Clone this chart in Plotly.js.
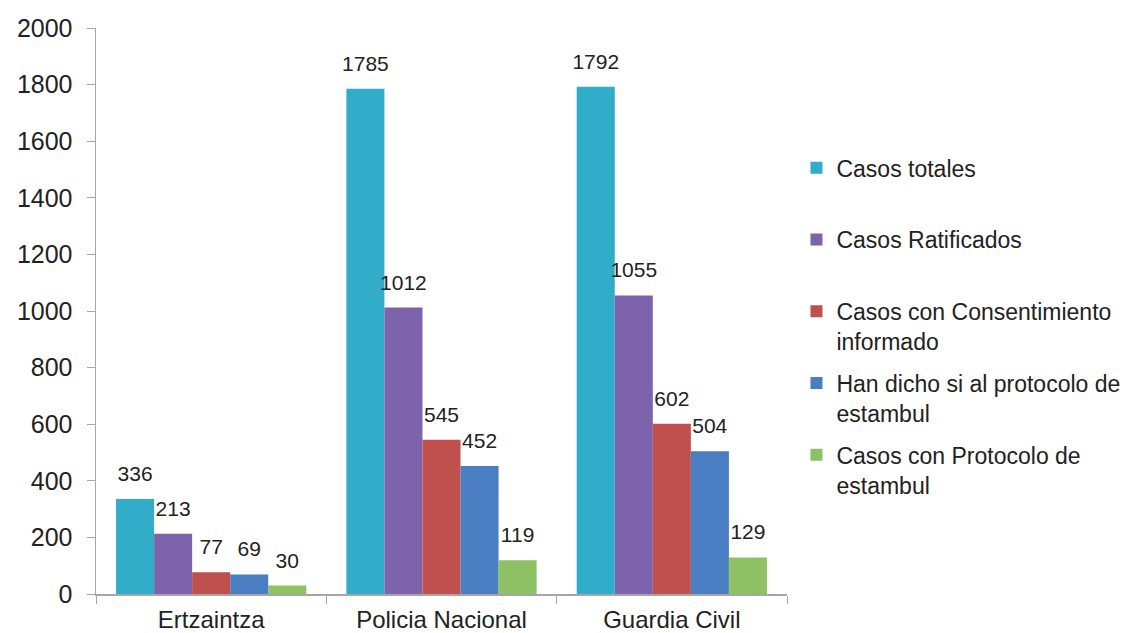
<!DOCTYPE html>
<html>
<head>
<meta charset="utf-8">
<script src="https://cdn.plot.ly/plotly-3.0.1.min.js"></script>
<style>html,body{margin:0;padding:0;background:#fff;}#chart{width:1146px;height:633px;}</style>
</head>
<body>
<div id="chart"></div>
<script>
var categories = ["Ertzaintza", "Policia Nacional", "Guardia Civil"];
var seriesNames = [
  "Casos totales",
  "Casos Ratificados",
  "Casos con Consentimiento<br>informado",
  "Han dicho si al protocolo de<br>estambul",
  "Casos con Protocolo de<br>estambul"
];
var casosTotales = [336, 1785, 1792];
var casosRatificados = [213, 1012, 1055];
var casosConsentimiento = [77, 545, 602];
var hanDichoSi = [69, 452, 504];
var casosProtocolo = [30, 119, 129];
var seriesValues = [casosTotales, casosRatificados, casosConsentimiento, hanDichoSi, casosProtocolo];
var colors = ["#31ADC9", "#7D62AC", "#C0504D", "#4A7EC2", "#8EC164"];
var yTicks = [0, 200, 400, 600, 800, 1000, 1200, 1400, 1600, 1800, 2000];

var font = "Liberation Sans, Arial, sans-serif";
var traces = seriesNames.map(function (name, i) {
  var legendName = name.indexOf("<br>") === -1 ? name + "<br>&nbsp;" : name;
  return {
    type: "bar",
    name: legendName,
    x: categories,
    y: seriesValues[i],
    marker: { color: colors[i] },
    text: seriesValues[i].map(String),
    texttemplate: "<span style='font-size:21px'>%{text}</span><br>&nbsp;",
    textposition: "outside",
    constraintext: "none",
    textfont: { family: font, size: 10, color: "#222" },
    cliponaxis: false,
    legendgroup: "g" + i,
    hoverinfo: "x+y+name"
  };
});

var layout = {
  width: 1146,
  height: 633,
  margin: { l: 96, r: 359, t: 28, b: 39, pad: 0 },
  paper_bgcolor: "#ffffff",
  plot_bgcolor: "#ffffff",
  barmode: "group",
  bargap: 0.174,
  bargroupgap: 0,
  showlegend: true,
  font: { family: font, size: 18, color: "#222" },
  xaxis: {
    type: "category",
    showgrid: false,
    showline: true,
    linecolor: "#A6A6A6",
    linewidth: 1.5,
    ticks: "outside",
    tickson: "boundaries",
    ticklen: 8,
    tickcolor: "#A6A6A6",
    ticklabelstandoff: 4,
    tickfont: { family: font, size: 24, color: "#222" },
    zeroline: false
  },
  yaxis: {
    range: [0, 2000],
    tickvals: yTicks,
    ticktext: yTicks.map(String),
    showgrid: false,
    showline: true,
    linecolor: "#A6A6A6",
    linewidth: 1.5,
    ticks: "outside",
    ticklen: 8,
    tickcolor: "#A6A6A6",
    ticklabelstandoff: 9,
    tickfont: { family: font, size: 25, color: "#222" },
    zeroline: false
  },
  legend: {
    xref: "container",
    yref: "container",
    x: 0.695,
    y: 0.769,
    xanchor: "left",
    yanchor: "top",
    maxheight: 600,
    traceorder: "grouped",
    tracegroupgap: 9,
    valign: "top",
    itemwidth: 30,
    font: { family: font, size: 23, color: "#222" },
    bgcolor: "rgba(0,0,0,0)"
  }
};

Plotly.newPlot("chart", traces, layout, { displayModeBar: false, staticPlot: true });
</script>
</body>
</html>
